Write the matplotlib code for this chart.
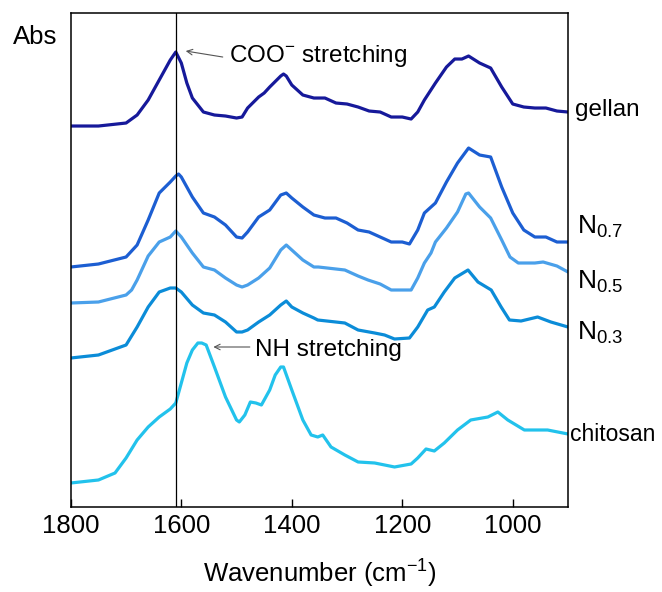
import matplotlib
matplotlib.use('Agg')
import matplotlib.pyplot as plt

plt.rcParams['font.family'] = ['Liberation Sans', 'DejaVu Sans']
plt.rcParams['mathtext.fontset'] = 'custom'
plt.rcParams['mathtext.rm'] = 'Liberation Sans'
plt.rcParams['mathtext.it'] = 'Liberation Sans:italic'
plt.rcParams['mathtext.default'] = 'regular'

# spectra (offset absorbance, arbitrary units)
gellan_wn = [1800, 1750, 1700, 1680, 1660, 1640, 1620, 1610, 1600, 1590, 1580, 1560, 1540, 1520,
             1500, 1490, 1480, 1460, 1450, 1440, 1420, 1415, 1410, 1400, 1380, 1360, 1340, 1320,
             1300, 1280, 1260, 1240, 1220, 1200, 1184, 1172, 1160, 1140, 1120, 1105, 1092, 1080,
             1060, 1040, 1020, 1000, 980, 960, 940, 920, 900]
gellan_abs = [3.81, 3.81, 3.84, 3.92, 4.07, 4.27, 4.47, 4.55, 4.44, 4.24, 4.09, 3.95, 3.92, 3.91,
              3.89, 3.90, 3.99, 4.10, 4.14, 4.20, 4.31, 4.33, 4.31, 4.22, 4.12, 4.09, 4.09, 4.04,
              4.03, 4.00, 3.96, 3.95, 3.90, 3.90, 3.88, 3.95, 4.07, 4.24, 4.40, 4.48, 4.48, 4.51,
              4.44, 4.39, 4.20, 4.03, 4.00, 3.99, 3.99, 3.96, 3.95]

n07_wn = [1800, 1750, 1700, 1680, 1660, 1640, 1620, 1610, 1605, 1600, 1580, 1560, 1540, 1520,
          1500, 1490, 1480, 1460, 1440, 1420, 1410, 1400, 1380, 1360, 1340, 1320, 1300, 1280,
          1260, 1240, 1220, 1200, 1187, 1172, 1160, 1140, 1120, 1100, 1080, 1060, 1040, 1020,
          1000, 980, 960, 940, 920, 900]
n07_abs = [2.40, 2.43, 2.50, 2.62, 2.87, 3.14, 3.25, 3.31, 3.33, 3.30, 3.10, 2.94, 2.90, 2.82,
           2.70, 2.69, 2.75, 2.90, 2.97, 3.12, 3.14, 3.09, 3.00, 2.92, 2.89, 2.89, 2.84, 2.77,
           2.75, 2.70, 2.65, 2.65, 2.63, 2.77, 2.94, 3.04, 3.25, 3.44, 3.59, 3.52, 3.50, 3.20,
           2.94, 2.77, 2.70, 2.70, 2.65, 2.65]

n05_wn = [1800, 1750, 1700, 1690, 1680, 1670, 1660, 1640, 1620, 1610, 1600, 1580, 1560, 1540,
          1520, 1500, 1490, 1480, 1460, 1440, 1420, 1410, 1400, 1380, 1360, 1352, 1320, 1304,
          1280, 1262, 1240, 1220, 1200, 1184, 1172, 1160, 1148, 1140, 1120, 1100, 1085, 1080,
          1060, 1040, 1020, 1005, 990, 960, 945, 920, 900]
n05_abs = [2.04, 2.05, 2.12, 2.17, 2.27, 2.39, 2.51, 2.65, 2.70, 2.76, 2.70, 2.54, 2.40, 2.37,
           2.29, 2.22, 2.20, 2.22, 2.29, 2.39, 2.57, 2.62, 2.57, 2.47, 2.40, 2.40, 2.38, 2.37,
           2.31, 2.27, 2.23, 2.17, 2.17, 2.17, 2.29, 2.44, 2.54, 2.65, 2.79, 2.95, 3.13, 3.14,
           3.00, 2.89, 2.67, 2.50, 2.44, 2.44, 2.45, 2.41, 2.35]

n03_wn = [1800, 1750, 1700, 1680, 1660, 1640, 1620, 1610, 1600, 1580, 1560, 1540, 1520, 1500,
          1490, 1480, 1460, 1440, 1420, 1410, 1400, 1380, 1360, 1353, 1304, 1280, 1250, 1232,
          1214, 1187, 1172, 1154, 1142, 1124, 1105, 1081, 1063, 1039, 1021, 1006, 985, 955,
          931, 900]
n03_abs = [1.49, 1.52, 1.62, 1.80, 2.00, 2.15, 2.19, 2.19, 2.15, 2.02, 1.94, 1.92, 1.85, 1.75,
           1.75, 1.77, 1.85, 1.92, 2.02, 2.06, 2.00, 1.94, 1.89, 1.87, 1.84, 1.77, 1.74, 1.72,
           1.68, 1.69, 1.80, 1.97, 2.00, 2.15, 2.29, 2.37, 2.25, 2.17, 2.00, 1.87, 1.86, 1.90,
           1.85, 1.80]

chit_wn = [1800, 1750, 1720, 1700, 1680, 1660, 1640, 1620, 1610, 1600, 1590, 1580, 1570, 1563,
           1555, 1540, 1520, 1500, 1495, 1485, 1475, 1465, 1455, 1440, 1430, 1420, 1415, 1400,
           1380, 1365, 1353, 1344, 1329, 1304, 1280, 1250, 1214, 1184, 1172, 1157, 1142, 1124,
           1100, 1076, 1045, 1027, 1009, 979, 937, 900]
chit_abs = [0.24, 0.27, 0.34, 0.49, 0.67, 0.80, 0.90, 0.98, 1.04, 1.24, 1.44, 1.57, 1.64, 1.64,
            1.62, 1.40, 1.10, 0.87, 0.85, 0.92, 1.05, 1.04, 1.02, 1.17, 1.32, 1.40, 1.40, 1.17,
            0.87, 0.72, 0.70, 0.72, 0.60, 0.52, 0.45, 0.44, 0.40, 0.43, 0.49, 0.58, 0.56, 0.64,
            0.77, 0.87, 0.90, 0.95, 0.87, 0.77, 0.77, 0.73]

# (wavenumbers, absorbance, colour, label, label height, label x, label size)
series = [
    (gellan_wn, gellan_abs, '#16199a', 'gellan', 3.97, 1.015, 17.5),
    (n07_wn, n07_abs, '#1c5ed2', 'N$_{0.7}$', 2.80, 1.018, 19),
    (n05_wn, n05_abs, '#4aa0ea', 'N$_{0.5}$', 2.25, 1.018, 19),
    (n03_wn, n03_abs, '#0b8cd8', 'N$_{0.3}$', 1.74, 1.018, 19),
    (chit_wn, chit_abs, '#22c2ec', 'chitosan', 0.72, 1.004, 16.5),
]

fig = plt.figure(figsize=(6.62, 5.92), dpi=100)
ax = fig.add_axes([0.107, 0.1436, 0.751, 0.8344])

for wn, ab, col, name, ylab, xlab, fs in series:
    ax.plot(wn, ab, color=col, lw=2.3, solid_joinstyle='round', solid_capstyle='round')
    ax.text(xlab, ylab, name, transform=ax.get_yaxis_transform(), ha='left', va='center',
            fontsize=fs)

ax.axvline(1610, color='black', lw=0.9)

ax.annotate('', xy=(1592, 4.56), xytext=(1525, 4.50),
            arrowprops=dict(arrowstyle='->', color='#555555', lw=0.8, shrinkA=0, shrinkB=0))
ax.text(1514, 4.51, 'COO$^{-}$ stretching', fontsize=17.5, ha='left', va='center')
ax.annotate('', xy=(1542, 1.60), xytext=(1476, 1.60),
            arrowprops=dict(arrowstyle='->', color='#555555', lw=0.8, shrinkA=0, shrinkB=0))
ax.text(1467, 1.57, 'NH stretching', fontsize=17.5, ha='left', va='center')

ax.set_xlim(1800, 900)
ax.set_ylim(0, 4.94)
ax.set_xticks([1800, 1600, 1400, 1200, 1000])
ax.set_yticks([])
ax.tick_params(axis='x', direction='in', length=6, width=1, labelsize=18.5, pad=5)
for s in ax.spines.values():
    s.set_linewidth(1.1)

ax.set_xlabel('Wavenumber (cm$^{-1}$)', fontsize=18.5, labelpad=14)
ax.text(-0.0714, 0.951, 'Abs', transform=ax.transAxes, ha='center', va='center', fontsize=18.5)

fig.savefig('out.png', dpi=100)
